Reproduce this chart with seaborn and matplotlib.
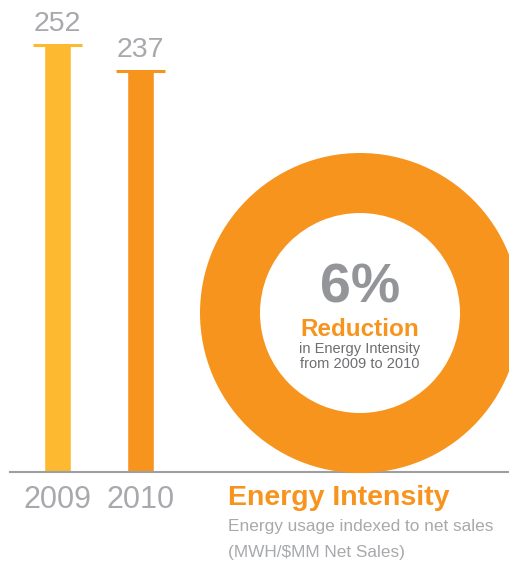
import pandas as pd
import matplotlib
matplotlib.use('Agg')
import matplotlib.pyplot as plt
import seaborn as sns

# data
years = ['2009', '2010']
intensity = [252, 237]
reduction_pct = 6
bar_colors = ['#FDB92F', '#F7941E']
ring_color = '#F7941E'
gray = '#A7A9AC'

df = pd.DataFrame({'year': years, 'value': intensity})

sns.set_theme(style='white')
plt.rcParams['font.family'] = ['Liberation Sans', 'DejaVu Sans']

W, H = 510, 563
fig = plt.figure(figsize=(W / 100, H / 100), dpi=100)

# bar axes: baseline at 91px from bottom, spans x px 10..510
px_per_cat = 83.0
x0_px = 57.5
ax = fig.add_axes([10 / W, 91 / H, 500 / W, 472 / H])
sns.barplot(data=df, x='year', y='value', hue='year', palette=bar_colors,
            legend=False, width=0.325, saturation=1, ax=ax)
ax.set_xlim((10 - x0_px) / px_per_cat, (510 - x0_px) / px_per_cat)
ax.set_ylim(0, 472 / 1.694)
ax.set_facecolor('none')

# caps and value labels
for i, v in enumerate(intensity):
    ax.hlines(v, i - 0.29, i + 0.29, color=bar_colors[i], lw=2.2)
    ax.annotate(str(v), (i, v), xytext=(0, 15), textcoords='offset points',
                ha='center', va='center', fontsize=20.5, color=gray)

for s in ['top', 'left', 'right']:
    ax.spines[s].set_visible(False)
ax.spines['bottom'].set_color('#9D9FA2')
ax.spines['bottom'].set_linewidth(1.5)
ax.set_yticks([])
ax.set_xlabel('')
ax.set_ylabel('')
ax.tick_params(axis='x', length=0, pad=9, labelsize=22, labelcolor=gray)

# donut
R = 160
ax2 = fig.add_axes([(360 - R) / W, (250 - R) / H, 2 * R / W, 2 * R / H])
ax2.pie([100], colors=[ring_color], radius=1, startangle=90,
        wedgeprops=dict(width=0.375, edgecolor='none'))
ax2.set_xlim(-1, 1)
ax2.set_ylim(-1, 1)
ax2.axis('off')
ax2.text(0, 0.155, f'{reduction_pct}%', ha='center', va='center',
         fontsize=40, fontweight='bold', color='#939598')
ax2.text(0, -0.1, 'Reduction', ha='center', va='center',
         fontsize=17.5, fontweight='bold', color=ring_color)
ax2.text(0, -0.225, 'in Energy Intensity', ha='center', va='center',
         fontsize=10.5, color='#6D6E71')
ax2.text(0, -0.32, 'from 2009 to 2010', ha='center', va='center',
         fontsize=10.5, color='#6D6E71')

# captions
fig.text(228 / W, 1 - 498 / H, 'Energy Intensity', ha='left', va='center',
         fontsize=20.5, fontweight='bold', color=ring_color)
fig.text(228 / W, 1 - 527 / H, 'Energy usage indexed to net sales', ha='left',
         va='center', fontsize=12.4, color=gray)
fig.text(228 / W, 1 - 552 / H, '(MWH/$MM Net Sales)', ha='left',
         va='center', fontsize=12.4, color=gray)

fig.savefig('out.png', dpi=100, facecolor='white')
